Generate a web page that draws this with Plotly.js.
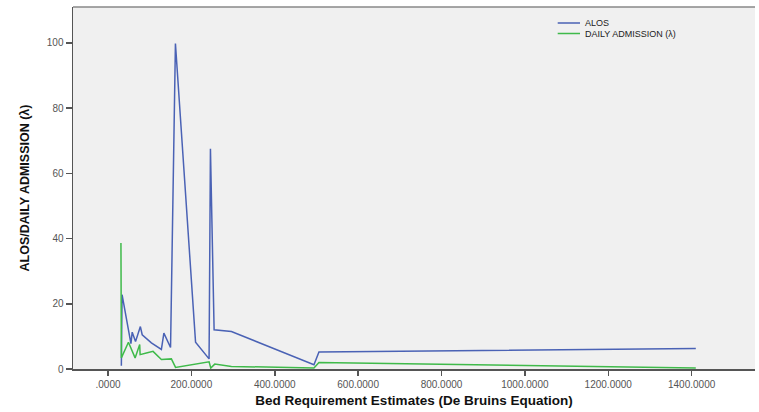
<!DOCTYPE html>
<html>
<head>
<meta charset="utf-8">
<script src="https://cdn.plot.ly/plotly-3.0.1.min.js"></script>
<style>
html,body{margin:0;padding:0;background:#fff;}
#chart{width:759px;height:412px;}
</style>
</head>
<body>
<div id="chart"></div>
<script>
// Data
const alosX = [32, 33.7, 55, 58, 66, 77.6, 82, 90, 104, 128, 134, 150, 161.7, 210, 242.4, 245.7, 254.5, 296, 494, 506, 1410];
const alosY = [1, 22.8, 7.8, 11.3, 8.4, 13, 10.5, 9.5, 8, 6, 11, 6.6, 99.8, 8.2, 3.1, 67.5, 12, 11.5, 1.3, 5.2, 6.3];

const admX = [31, 32, 49, 65, 76, 77, 92, 108, 128, 140, 152, 162, 242.4, 246.5, 256, 296, 494, 506, 1410];
const admY = [38.6, 3.4, 8.2, 3.4, 7.5, 4.4, 4.9, 5.4, 2.9, 3.1, 3.1, 0.5, 2.2, 0.3, 1.5, 0.8, 0.3, 2.0, 0.3];

const seriesNames = ["ALOS", "DAILY ADMISSION (\u03bb)"];
const seriesColors = ["#4a62b5", "#3fba4a"];

const xTickVals = [0, 200, 400, 600, 800, 1000, 1200, 1400];
const xTickText = [".0000", "200.0000", "400.0000", "600.0000", "800.0000", "1000.0000", "1200.0000", "1400.0000"];
const yTickVals = [0, 20, 40, 60, 80, 100];

const traces = [
  {x: alosX, y: alosY, name: seriesNames[0], type: "scatter", mode: "lines",
   line: {color: seriesColors[0], width: 1.5}, showlegend: false},
  {x: admX, y: admY, name: seriesNames[1], type: "scatter", mode: "lines",
   line: {color: seriesColors[1], width: 1.5}, showlegend: false}
];

const legendFont = {family: "Liberation Sans, Arial, sans-serif", size: 9, color: "#222"};
const legY1 = 1 - (23 - 7) / 362;
const legY2 = 1 - (33.5 - 7) / 362;

const layout = {
  width: 759, height: 412,
  margin: {l: 73, r: 4, t: 7, b: 43},
  paper_bgcolor: "#ffffff",
  plot_bgcolor: "#f0f0f0",
  showlegend: false,
  xaxis: {
    range: [-84, 1552],
    tickvals: xTickVals, ticktext: xTickText,
    ticks: "outside", ticklen: 5, tickwidth: 1.5, tickcolor: "#555",
    showline: true, linecolor: "#555", linewidth: 1.5,
    showgrid: false, zeroline: false,
    tickfont: {family: "Liberation Sans, Arial, sans-serif", size: 10, color: "#555"},
    title: {text: "Bed Requirement Estimates (De Bruins Equation)", standoff: 7,
            font: {family: "Liberation Sans, Arial, sans-serif", size: 13.5, color: "#111", weight: "bold"}}
  },
  yaxis: {
    range: [0, 111],
    tickvals: yTickVals,
    ticks: "outside", ticklen: 6, tickwidth: 1.5, tickcolor: "#555",
    showline: true, linecolor: "#555", linewidth: 1.5,
    showgrid: false, zeroline: false,
    tickfont: {family: "Liberation Sans, Arial, sans-serif", size: 10, color: "#555"},
    title: {text: "ALOS/DAILY ADMISSION (\u03bb)", standoff: 14,
            font: {family: "Liberation Sans Narrow, Arial Narrow, Liberation Sans, Arial, sans-serif", size: 12.5, color: "#111", weight: "bold"}}
  },
  shapes: [
    {type: "line", xref: "paper", yref: "paper", x0: 0, x1: 1, y0: 1, y1: 1,
     line: {color: "#888", width: 1.5}},
    {type: "line", xref: "paper", yref: "paper", x0: (557.7-73)/682, x1: (580-73)/682,
     y0: legY1, y1: legY1, line: {color: seriesColors[0], width: 1.5}},
    {type: "line", xref: "paper", yref: "paper", x0: (557.7-73)/682, x1: (580-73)/682,
     y0: legY2, y1: legY2, line: {color: seriesColors[1], width: 1.5}}
  ],
  annotations: [
    {xref: "paper", yref: "paper", x: (583.5-73)/682, y: legY1, xanchor: "left", yanchor: "middle",
     text: seriesNames[0], showarrow: false, font: legendFont, borderpad: 0},
    {xref: "paper", yref: "paper", x: (583.5-73)/682, y: legY2, xanchor: "left", yanchor: "middle",
     text: seriesNames[1], showarrow: false, font: legendFont, borderpad: 0}
  ]
};

Plotly.newPlot("chart", traces, layout, {displayModeBar: false, staticPlot: true});
</script>
</body>
</html>
